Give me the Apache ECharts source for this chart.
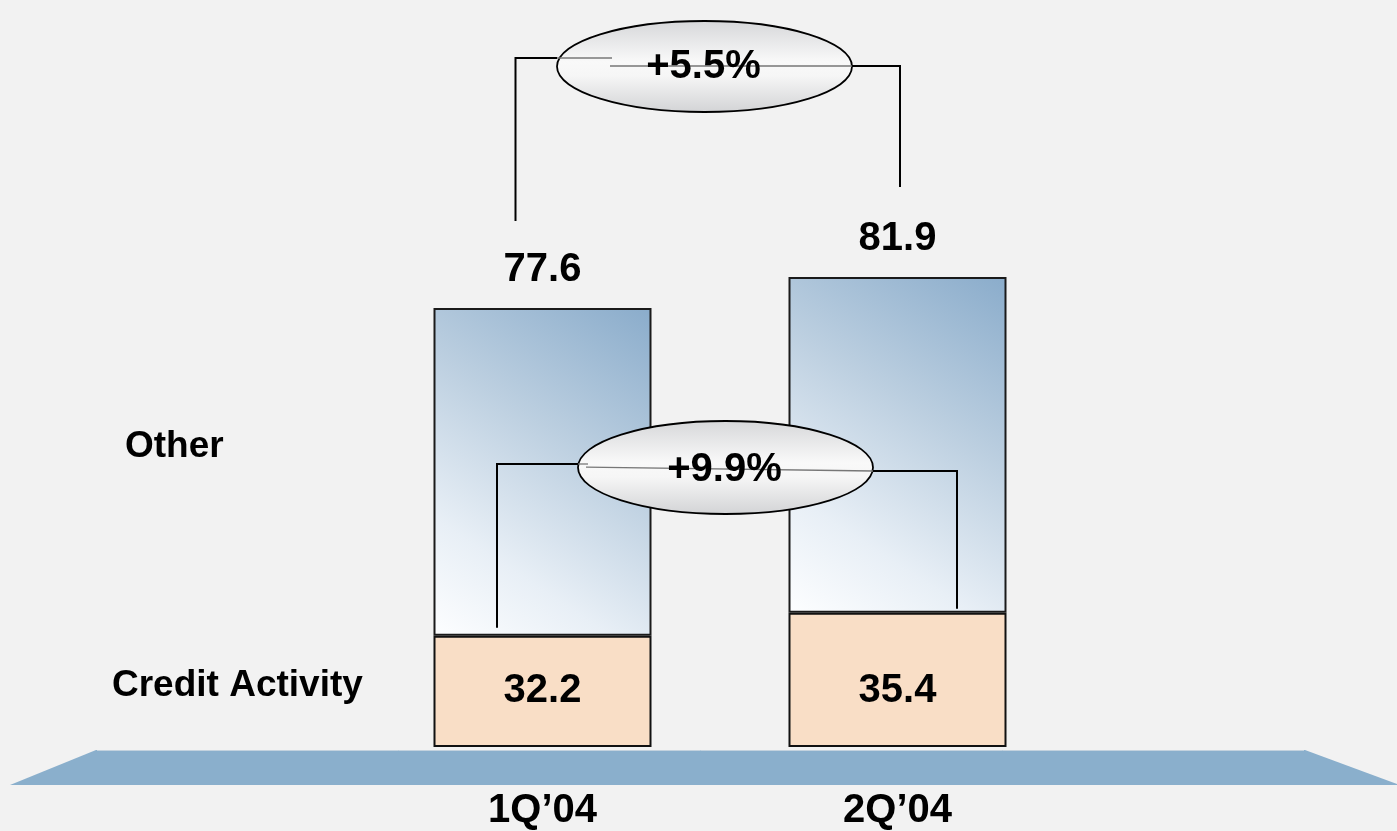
<!DOCTYPE html>
<html><head><meta charset="utf-8">
<script src="https://cdn.jsdelivr.net/npm/echarts@6/dist/echarts.min.js"></script>
<style>html,body{margin:0;padding:0;background:#f2f2f2}#c{width:1397px;height:831px}</style>
</head><body><div id="c"></div>
<script>
// ---- data ----
const categories = ['1Q\u201904', '2Q\u201904'];
const creditActivity = [32.2, 35.4];
const totals = [77.6, 81.9];
const growthLabels = ['+5.5%', '+9.9%'];
const seriesNames = ['Credit Activity', 'Other'];
const otherValues = totals.map((t, i) => +(t - creditActivity[i]).toFixed(1));

const FONT = 'Arial, "Liberation Sans", Helvetica, sans-serif';
const chart = echarts.init(document.getElementById('c'), null, {renderer: 'canvas'});

const otherFill = new echarts.graphic.LinearGradient(0, 1, 1, 0, [
  {offset: 0, color: '#fdfeff'},
  {offset: 0.25, color: '#e8eff6'},
  {offset: 0.6, color: '#bccfe0'},
  {offset: 1, color: '#8aaccb'}
]);

chart.setOption({
  backgroundColor: '#f2f2f2',
  animation: false,
  grid: {left: 365, right: 322, top: 2, bottom: 83, containLabel: false},
  xAxis: {
    type: 'category', data: categories,
    axisLine: {show: false}, axisTick: {show: false}, splitLine: {show: false},
    axisLabel: {color: '#000', fontSize: 40, fontWeight: 'bold', fontFamily: FONT, margin: 44}
  },
  yAxis: {type: 'value', min: 16.8, max: 120, startValue: 16.8, show: false, splitLine: {show: false}},
  series: [
    {
      name: seriesNames[0], type: 'bar', stack: 'total', barWidth: 218, clip: true,
      data: creditActivity,
      itemStyle: {color: '#f9dec6', borderColor: '#111', borderWidth: 2},
      label: {show: true, position: 'insideBottom', distance: 36, color: '#000',
              fontSize: 40, fontWeight: 'bold', fontFamily: FONT}
    },
    {
      name: seriesNames[1], type: 'bar', stack: 'total', barWidth: 218, clip: true,
      data: otherValues,
      itemStyle: {color: otherFill, borderColor: '#1a1a1a', borderWidth: 2},
      label: {show: true, position: 'top', distance: 18, color: '#000',
              fontSize: 40, fontWeight: 'bold', fontFamily: FONT,
              formatter: p => totals[p.dataIndex].toFixed(1)}
    }
  ]
});

// ---- annotations anchored to the chart's own scales ----
const cx = categories.map(c => chart.convertToPixel({xAxisIndex: 0}, c));
const yTop = totals.map(v => chart.convertToPixel({yAxisIndex: 0}, v));
const yCredit = creditActivity.map(v => chart.convertToPixel({yAxisIndex: 0}, v));
const W = chart.getWidth(), H = chart.getHeight();
const yBase = H - 83;

const ellFill = new echarts.graphic.LinearGradient(0, 0, 0, 1, [
  {offset: 0, color: '#d6d7d9'},
  {offset: 0.45, color: '#f9f9f9'},
  {offset: 0.6, color: '#f6f6f6'},
  {offset: 1, color: '#d2d3d5'}
]);
const black = {stroke: '#000', lineWidth: 2, fill: null};
const gray = {stroke: '#777', lineWidth: 1.3, fill: null};

function bracket(p) {
  const e = p.ell;
  return [
    {type: 'polyline', z: 10, shape: {points: [[p.lx, p.ly0], [p.lx, p.ly1], [e.cx - e.rx, p.ly1]]}, style: black},
    {type: 'polyline', z: 10, shape: {points: [[e.cx + e.rx, p.ry1], [p.rx, p.ry1], [p.rx, p.ry0]]}, style: black},
    {type: 'ellipse', z: 11, shape: e, style: {fill: ellFill, stroke: '#000', lineWidth: 1.8}},
    {type: 'polyline', z: 12, shape: {points: [[e.cx - e.rx, p.ly1], [p.gx, p.ly1]]}, style: gray},
    {type: 'polyline', z: 12, shape: {points: [[p.gx - 2, p.ly1 + 8 * p.k], [e.cx + e.rx, p.ry1]]}, style: gray},
    {type: 'text', z: 13, x: e.cx + p.tdx, y: e.cy + p.tdy,
      style: {text: p.text, fill: '#000', font: 'bold 40px ' + FONT, align: 'center', verticalAlign: 'middle'}}
  ];
}

const graphics = [
  {type: 'polygon', z: 0, shape: {points: [[96, yBase + 2], [W - 92, yBase + 2], [W + 3, yBase + 37], [10, yBase + 37]]},
    style: {fill: '#8aafcc'}},
  {type: 'line', z: 1, shape: {x1: 97, y1: yBase + 2.5, x2: W - 93, y2: yBase + 2.5}, style: {stroke: '#c3d2de', lineWidth: 1}},
  {type: 'text', z: 5, x: 125, y: 447, style: {text: seriesNames[1], fill: '#000', font: 'bold 37px ' + FONT, verticalAlign: 'middle'}},
  {type: 'text', z: 5, x: 112, y: 686, style: {text: seriesNames[0], fill: '#000', font: 'bold 37px ' + FONT, verticalAlign: 'middle'}}
];

graphics.push(...bracket({
  lx: cx[0] - 27, ly0: yTop[0] - 87, ly1: 58,
  rx: cx[1] + 2.5, ry0: yTop[1] - 90, ry1: 66,
  ell: {cx: (cx[0] + cx[1]) / 2 - 15.5, cy: 66.5, rx: 147.5, ry: 45.5},
  gx: 612, k: 1, tdx: -1, tdy: 0, text: growthLabels[0]
}));
graphics.push(...bracket({
  lx: cx[0] - 45.5, ly0: yCredit[0] - 8, ly1: 464,
  rx: cx[1] + 59.5, ry0: yCredit[1] - 4, ry1: 471,
  ell: {cx: (cx[0] + cx[1]) / 2 + 5.5, cy: 467.5, rx: 147.5, ry: 46.5},
  gx: 588, k: 0.4, tdx: -1, tdy: 2, text: growthLabels[1]
}));

chart.setOption({graphic: graphics});
</script>
</body></html>
